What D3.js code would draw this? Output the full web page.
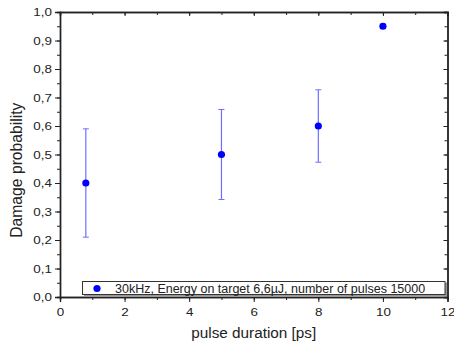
<!DOCTYPE html>
<html>
<head>
<meta charset="utf-8">
<script src="https://cdn.jsdelivr.net/npm/d3@7"></script>
<style>
  body { margin: 0; background: #fff; }
  svg { display: block; font-family: "Liberation Sans", Arial, sans-serif; }
</style>
</head>
<body>
<svg id="chart" width="454" height="349"></svg>
<script>
// data
const pulseDuration = [0.8, 5, 8, 10];
const damageProb = [0.40, 0.50, 0.60, 0.95];
const errBar = [0.19, 0.158, 0.127, 0.008];
const xTicks = [0, 2, 4, 6, 8, 10, 12];
const yTicks = [0, 0.1, 0.2, 0.3, 0.4, 0.5, 0.6, 0.7, 0.8, 0.9, 1.0];
const legendLabel = "30kHz, Energy on target 6,6µJ, number of pulses 15000";

const width = 454, height = 349;
const margin = { top: 12, right: 6.5, bottom: 52, left: 60 };
const stretch = 1.22; // the reference text is stretched sideways

const svg = d3.select("#chart");

const x = d3.scaleLinear().domain([0, 12]).range([margin.left, width - margin.right]);
const y = d3.scaleLinear().domain([0, 1]).range([height - margin.bottom, margin.top]);

const comma = d => d3.format(".1f")(d).replace(".", ",");

// axes: outside ticks on left/bottom, inside on top/right
const xMinor = d3.range(0, 12.01, 1);
const yMinor = d3.range(0, 1.001, 0.05);

const bottom = svg.append("g")
  .attr("transform", `translate(0,${y(0)})`)
  .call(d3.axisBottom(x).tickValues(xTicks).tickSize(5).tickPadding(6).tickFormat(d3.format("d")));
svg.append("g")
  .attr("transform", `translate(0,${y(0)})`)
  .call(d3.axisBottom(x).tickValues(xMinor).tickSize(3).tickFormat(""));

const left = svg.append("g")
  .attr("transform", `translate(${x(0)},0)`)
  .call(d3.axisLeft(y).tickValues(yTicks).tickSize(5).tickPadding(3).tickFormat(comma));
svg.append("g")
  .attr("transform", `translate(${x(0)},0)`)
  .call(d3.axisLeft(y).tickValues(yMinor).tickSize(3).tickFormat(""));

svg.append("g")
  .attr("transform", `translate(0,${y(1)})`)
  .call(d3.axisBottom(x).tickValues(xTicks).tickSize(4).tickFormat(""));
svg.append("g")
  .attr("transform", `translate(0,${y(1)})`)
  .call(d3.axisBottom(x).tickValues(xMinor).tickSize(3).tickFormat(""));
svg.append("g")
  .attr("transform", `translate(${x(12)},0)`)
  .call(d3.axisLeft(y).tickValues(yTicks).tickSize(4).tickFormat(""));
svg.append("g")
  .attr("transform", `translate(${x(12)},0)`)
  .call(d3.axisLeft(y).tickValues(yMinor).tickSize(3).tickFormat(""));

svg.selectAll(".domain").attr("stroke", "#222").attr("stroke-width", 1.4);
svg.selectAll(".tick line").attr("stroke", "#222").attr("stroke-width", 1);
svg.selectAll(".tick text").attr("font-size", 11).attr("fill", "#222")
  .attr("font-family", "Liberation Sans, Arial, sans-serif");

// widen the tick labels like the reference
bottom.selectAll(".tick text").attr("transform", `scale(${stretch},1)`);
left.selectAll(".tick text")
  .attr("x", -8 / stretch)
  .attr("transform", `scale(${stretch},1)`);

// axis titles
svg.append("text")
  .attr("x", (x(0) + x(12)) / 2)
  .attr("y", 338)
  .attr("text-anchor", "middle")
  .attr("font-size", 15.3)
  .attr("fill", "#222")
  .text("pulse duration [ps]");

svg.append("text")
  .attr("transform", `translate(22,${y(0.445)}) rotate(-90)`)
  .attr("text-anchor", "middle")
  .attr("font-size", 15.7)
  .attr("fill", "#222")
  .text("Damage probability");

// error bars
const points = pulseDuration.map((d, i) => ({ x: d, y: damageProb[i], e: errBar[i] }));
const errColor = "#6f6fff";
const eb = svg.append("g");
eb.selectAll("line.v").data(points).join("line").attr("class", "v")
  .attr("x1", d => x(d.x)).attr("x2", d => x(d.x))
  .attr("y1", d => y(d.y + d.e)).attr("y2", d => y(d.y - d.e))
  .attr("stroke", errColor).attr("stroke-width", 1.2);
eb.selectAll("line.top").data(points).join("line").attr("class", "top")
  .attr("x1", d => x(d.x) - 3).attr("x2", d => x(d.x) + 3)
  .attr("y1", d => y(d.y + d.e)).attr("y2", d => y(d.y + d.e))
  .attr("stroke", errColor).attr("stroke-width", 1);
eb.selectAll("line.bot").data(points).join("line").attr("class", "bot")
  .attr("x1", d => x(d.x) - 3).attr("x2", d => x(d.x) + 3)
  .attr("y1", d => y(d.y - d.e)).attr("y2", d => y(d.y - d.e))
  .attr("stroke", errColor).attr("stroke-width", 1);

svg.append("g").selectAll("circle").data(points).join("circle")
  .attr("cx", d => x(d.x)).attr("cy", d => y(d.y))
  .attr("r", 3.6).attr("fill", "#0000ff");

// legend
const lg = svg.append("g");
lg.append("rect").attr("x", 84).attr("y", 283).attr("width", 363).attr("height", 13.5).attr("fill", "#999");
lg.append("rect").attr("x", 82.5).attr("y", 281.5).attr("width", 362.5).attr("height", 13)
  .attr("fill", "#fff").attr("stroke", "#333").attr("stroke-width", 1);
lg.append("circle").attr("cx", 97).attr("cy", 288.5).attr("r", 3.6).attr("fill", "#0000ff");
lg.append("text").attr("x", 115).attr("y", 292.8).attr("font-size", 12.5).attr("fill", "#222")
  .text(legendLabel);
</script>
</body>
</html>
